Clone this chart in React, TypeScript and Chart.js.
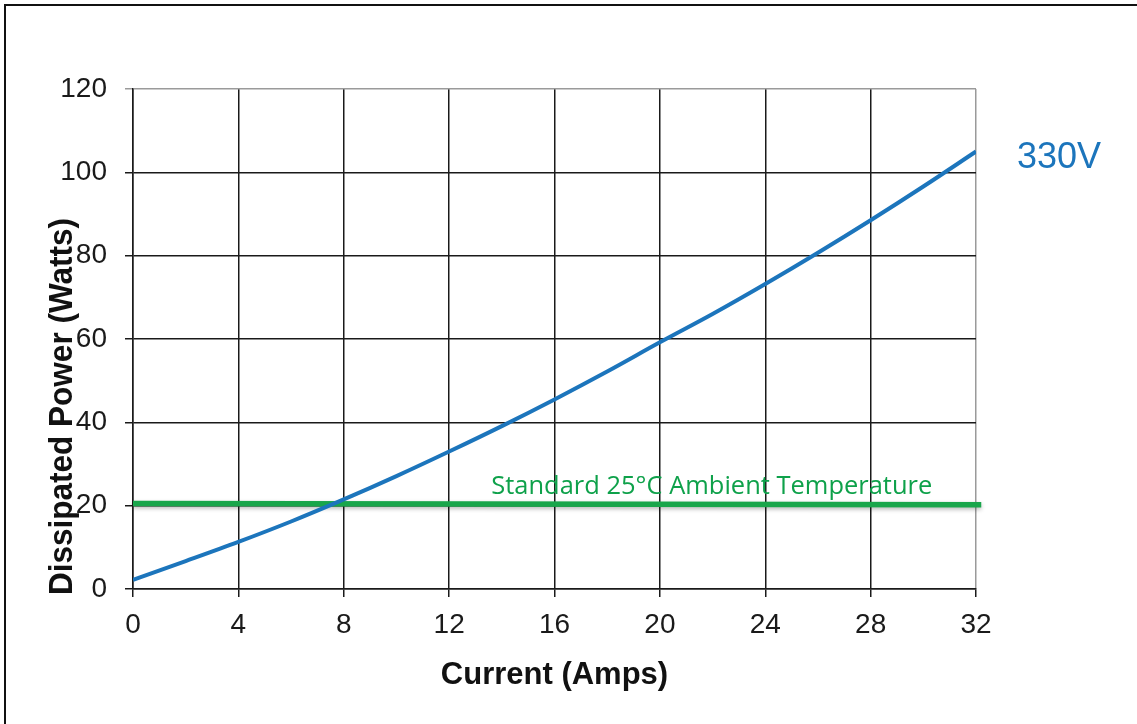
import React, { useEffect, useRef } from 'react';
import { Chart, registerables } from 'chart.js';

Chart.register(...registerables);

// ---- data ----
const currentAmps = [0, 2, 4, 6, 8, 10, 12, 14, 16, 18, 20, 22, 24, 26, 28, 30, 32];
const power330V = [2.2, 6.7, 11.3, 16.2, 21.5, 27.1, 33.0, 39.1, 45.5, 52.2, 59.2, 66.0, 73.2, 80.7, 88.5, 96.6, 105.0];
const ambientX = [0, 32.2];
const ambientY = [20.5, 20.2];
const xTickValues = [0, 4, 8, 12, 16, 20, 24, 28, 32];
const yTickValues = [0, 20, 40, 60, 80, 100, 120];
const seriesLabel = '330V';
const ambientLabel = 'Standard 25°C Ambient Temperature';
const xTitle = 'Current (Amps)';
const yTitle = 'Dissipated Power (Watts)';

const BLUE = '#1c75bc';
const GREEN_LINE = '#19a64b';
const GREEN_TEXT = '#0ea14a';
const GRID = '#1a1a1a';
const GRID_LIGHT = '#9a9a9a';

export default function App() {
  const canvasRef = useRef<HTMLCanvasElement | null>(null);

  useEffect(() => {
    document.body.style.margin = '0';
    const canvas = canvasRef.current;
    if (!canvas) return;

    const decorPlugin = {
      id: 'decor',
      beforeDraw(chart: any) {
        const { ctx, width, height } = chart;
        ctx.save();
        ctx.fillStyle = '#ffffff';
        ctx.fillRect(0, 0, width, height);
        ctx.restore();
      },
      beforeDatasetDraw(chart: any, args: any) {
        if (args.index === 1) {
          const ctx = chart.ctx;
          ctx.save();
          ctx.shadowColor = 'rgba(0,0,0,0.28)';
          ctx.shadowBlur = 4;
          ctx.shadowOffsetY = 2;
        }
      },
      afterDatasetDraw(chart: any, args: any) {
        if (args.index === 1) chart.ctx.restore();
      },
      afterDraw(chart: any) {
        const { ctx, chartArea, width, height } = chart;
        const xs = chart.scales.x;
        const ys = chart.scales.y;
        ctx.save();
        // image frame (top and left)
        ctx.strokeStyle = '#111111';
        ctx.lineWidth = 2;
        ctx.beginPath();
        ctx.moveTo(width, 5);
        ctx.lineTo(5, 5);
        ctx.lineTo(5, height);
        ctx.stroke();

        // y-axis title
        ctx.fillStyle = '#111111';
        ctx.font = 'bold 34px "Liberation Sans", Arial, sans-serif';
        ctx.textAlign = 'center';
        ctx.textBaseline = 'alphabetic';
        ctx.translate(72, (chartArea.top + chartArea.bottom) / 2 + 67.5);
        ctx.rotate(-Math.PI / 2);
        ctx.fillText(yTitle, 0, 0, 377);
        ctx.restore();

        // series label
        ctx.save();
        ctx.fillStyle = BLUE;
        ctx.font = '36px "Liberation Sans", Arial, sans-serif';
        ctx.textAlign = 'left';
        ctx.textBaseline = 'alphabetic';
        ctx.fillText(seriesLabel, chartArea.right + 41, ys.getPixelForValue(power330V[power330V.length - 1]) + 16.5);

        // ambient label
        ctx.fillStyle = GREEN_TEXT;
        ctx.font = '26px "Open Sans", "Noto Sans", sans-serif';
        ctx.fillText(ambientLabel, xs.getPixelForValue(13.6), ys.getPixelForValue(ambientY[0]) - 9.5, 441);
        ctx.restore();
      },
    };

    const chart = new Chart(canvas, {
      type: 'line',
      data: {
        datasets: [
          {
            label: seriesLabel,
            data: currentAmps.map((x, i) => ({ x, y: power330V[i] })),
            borderColor: BLUE,
            backgroundColor: BLUE,
            borderWidth: 4,
            pointRadius: 0,
            cubicInterpolationMode: 'monotone',
            fill: false,
          },
          {
            label: ambientLabel,
            data: ambientX.map((x, i) => ({ x, y: ambientY[i] })),
            borderColor: GREEN_LINE,
            backgroundColor: GREEN_LINE,
            borderWidth: 5.5,
            pointRadius: 0,
            fill: false,
            clip: false as any,
            borderCapStyle: 'butt',
          },
        ],
      },
      options: {
        animation: false,
        responsive: false,
        devicePixelRatio: 1,
        events: [],
        layout: { padding: { top: 89, right: 161, left: 0, bottom: 0 } },
        plugins: {
          legend: { display: false },
          tooltip: { enabled: false },
          title: { display: false },
        },
        scales: {
          x: {
            type: 'linear',
            min: 0,
            max: 32,
            afterBuildTicks: (scale: any) => {
              scale.ticks = xTickValues.map((v) => ({ value: v }));
            },
            afterFit: (scale: any) => {
              scale.height = 135;
            },
            grid: {
              color: (c: any) => (c.tick && c.tick.value === 32 ? GRID_LIGHT : GRID),
              lineWidth: 1.5,
              tickLength: 8,
              drawTicks: true,
              tickColor: GRID,
            },
            border: { display: true, color: GRID, width: 1.5 },
            ticks: {
              padding: 11,
              color: '#1a1a1a',
              font: { family: '"Liberation Sans", Arial, sans-serif', size: 28 },
              maxRotation: 0,
              autoSkip: false,
            },
            title: {
              display: true,
              text: xTitle,
              color: '#111111',
              font: { family: '"Liberation Sans", Arial, sans-serif', size: 31, weight: 'bold' },
              padding: { top: 0, bottom: 30 },
            },
          },
          y: {
            type: 'linear',
            min: 0,
            max: 120,
            afterBuildTicks: (scale: any) => {
              scale.ticks = yTickValues.map((v) => ({ value: v }));
            },
            afterFit: (scale: any) => {
              scale.width = 133;
            },
            grid: {
              color: (c: any) => (c.tick && c.tick.value === 120 ? GRID_LIGHT : GRID),
              lineWidth: 1.5,
              tickLength: 8,
              drawTicks: true,
            },
            border: { display: true, color: GRID, width: 1.5 },
            ticks: {
              padding: 18,
              color: '#1a1a1a',
              font: { family: '"Liberation Sans", Arial, sans-serif', size: 28 },
              autoSkip: false,
            },
          },
        },
      },
      plugins: [decorPlugin],
    } as any);

    return () => {
      chart.destroy();
    };
  }, []);

  return (
    <div style={{ width: 1137, height: 724, position: 'relative' }}>
      <canvas ref={canvasRef} width={1137} height={724} style={{ display: 'block' }} />
    </div>
  );
}
